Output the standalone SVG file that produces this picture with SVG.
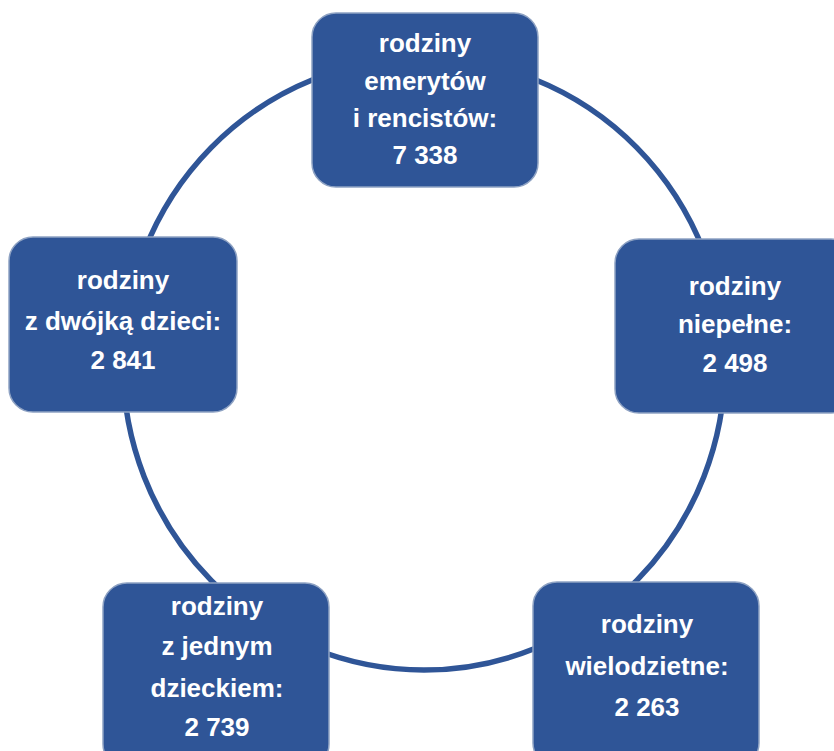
<svg xmlns="http://www.w3.org/2000/svg" width="834" height="751" viewBox="0 0 834 751">
<style>
.box{fill:#2F5597;stroke:#8EA2C3;stroke-width:1.5}
.t{font-family:"Liberation Sans",Arial,sans-serif;font-weight:bold;font-size:26px;fill:#FFFFFF;text-anchor:middle}
.ring{fill:none;stroke:#2F5597;stroke-width:5.5}
</style>
<rect width="834" height="751" fill="#FFFFFF"/>
<g id="connectors">
<ellipse class="ring" cx="424" cy="364" rx="301" ry="306"/>
</g>
<g id="node-emeryci">
<rect class="box" x="312" y="13" width="226" height="174" rx="24"/>
<text class="t" x="425" y="52">rodziny</text>
<text class="t" x="425" y="90">emerytów</text>
<text class="t" x="425" y="127">i rencistów:</text>
<text class="t" x="425" y="164">7 338</text>
</g>
<g id="node-niepelne">
<rect class="box" x="615" y="239" width="240" height="174" rx="24"/>
<text class="t" x="735" y="295">rodziny</text>
<text class="t" x="735" y="333">niepełne:</text>
<text class="t" x="735" y="372">2 498</text>
</g>
<g id="node-wielodzietne">
<rect class="box" x="533" y="582" width="226" height="185" rx="24"/>
<text class="t" x="647" y="633">rodziny</text>
<text class="t" x="647" y="675">wielodzietne:</text>
<text class="t" x="647" y="716">2 263</text>
</g>
<g id="node-jedno-dziecko">
<rect class="box" x="103" y="583" width="226" height="185" rx="24"/>
<text class="t" x="217" y="615">rodziny</text>
<text class="t" x="217" y="655">z jednym</text>
<text class="t" x="217" y="697">dzieckiem:</text>
<text class="t" x="217" y="736">2 739</text>
</g>
<g id="node-dwoje-dzieci">
<rect class="box" x="9" y="237" width="228" height="175" rx="24"/>
<text class="t" x="123" y="289">rodziny</text>
<text class="t" x="123" y="330">z dwójką dzieci:</text>
<text class="t" x="123" y="369">2 841</text>
</g>
</svg>
